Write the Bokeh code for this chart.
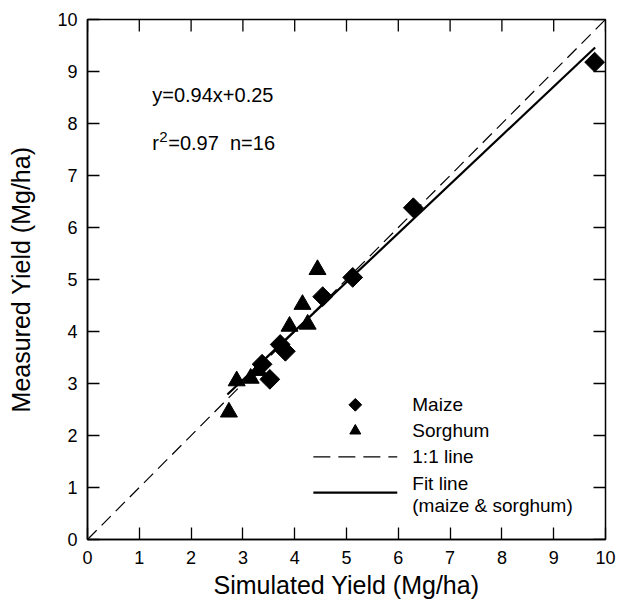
import math
from bokeh.plotting import figure
from bokeh.models import Range1d, FixedTicker, Label
from bokeh.embed import file_html
from bokeh.resources import INLINE

# ---- data ----
maize_sim = [9.79, 6.29, 5.12, 4.54, 3.72, 3.82, 3.37, 3.52]
maize_meas = [9.18, 6.38, 5.04, 4.67, 3.75, 3.62, 3.37, 3.08]
sorghum_sim = [2.73, 2.88, 3.15, 3.30, 3.90, 4.25, 4.15, 4.44]
sorghum_meas = [2.45, 3.05, 3.10, 3.25, 4.10, 4.14, 4.52, 5.19]
fit_slope = 0.94
fit_intercept = 0.25
fit_x = [2.7, 9.8]
one_to_one = [0, 10]
ticks = list(range(0, 11))
eq_text = "y=0.94x+0.25"
r2_text = "=0.97\u00a0\u00a0n=16"
legend_labels = ["Maize", "Sorghum", "1:1 line", "Fit line", "(maize & sorghum)"]

FONT = "Liberation Sans"
X_MAX = 10
Y_MAX = 10

p = figure(width=619, height=601, x_range=Range1d(0, X_MAX), y_range=Range1d(0, Y_MAX),
           output_backend="svg", toolbar_location=None,
           min_border_left=87, min_border_right=14, min_border_top=19, min_border_bottom=60)
p.grid.visible = False
p.outline_line_color = "black"
p.outline_line_width = 1.5
p.background_fill_color = "white"
p.border_fill_color = "white"


def style_axis(ax):
    ax.ticker = FixedTicker(ticks=ticks)
    ax.minor_tick_line_color = None
    ax.major_tick_in = 12
    ax.major_tick_out = 0
    ax.major_tick_line_width = 1.3
    ax.major_tick_line_color = "black"
    ax.axis_line_color = "black"
    ax.axis_line_width = 1.5
    ax.major_label_text_font = FONT
    ax.major_label_text_font_size = "18px"
    ax.major_label_text_color = "black"
    ax.axis_label_text_font = FONT
    ax.axis_label_text_font_size = "25px"
    ax.axis_label_text_font_style = "normal"
    ax.axis_label_text_color = "black"


xa = p.xaxis[0]
ya = p.yaxis[0]
style_axis(xa)
style_axis(ya)
xa.axis_label = "Simulated Yield (Mg/ha)"
ya.axis_label = "Measured Yield (Mg/ha)"
xa.major_label_standoff = 11
xa.axis_label_standoff = 4
ya.major_label_standoff = 10
ya.axis_label_standoff = 19

# inward ticks on the top and right frame edges
tick_len_x = 12 / 51.8
tick_len_y = 12 / 52.2
p.segment(x0=ticks, y0=[Y_MAX] * len(ticks), x1=ticks, y1=[Y_MAX - tick_len_y] * len(ticks),
          line_color="black", line_width=1.3)
p.segment(x0=[X_MAX] * len(ticks), y0=ticks, x1=[X_MAX - tick_len_x] * len(ticks), y1=ticks,
          line_color="black", line_width=1.3)

# 1:1 line
p.line(one_to_one, one_to_one, line_color="black", line_width=1.2, line_dash="13 7")
# fit line
fit_y = [fit_slope * v + fit_intercept for v in fit_x]
p.line(fit_x, fit_y, line_color="black", line_width=2.2)

# points
p.scatter(sorghum_sim, sorghum_meas, marker="triangle", size=17, color="black")
p.scatter(maize_sim, maize_meas, marker="square", angle=math.pi / 4, size=14, color="black")

# annotation text
p.add_layout(Label(x=1.25, y=8.54, text=eq_text, text_font=FONT, text_font_size="20px",
                   text_baseline="middle", text_color="black"))
p.add_layout(Label(x=1.25, y=7.62, text="r", text_font=FONT, text_font_size="20px",
                   text_baseline="middle", text_color="black"))
p.add_layout(Label(x=1.25, y=7.62, x_offset=7, y_offset=6, text="2", text_font=FONT,
                   text_font_size="15px", text_baseline="middle", text_color="black"))
p.add_layout(Label(x=1.25, y=7.62, x_offset=16, text=r2_text, text_font=FONT,
                   text_font_size="20px", text_baseline="middle", text_color="black"))

# legend (manual)
leg_mx = 5.17
leg_line = [4.36, 5.98]
leg_tx = 6.27
leg_y = [2.59, 2.09, 1.59, 1.07, 0.66]
p.scatter([leg_mx], [leg_y[0]], marker="square", angle=math.pi / 4, size=9, color="black")
p.scatter([leg_mx], [leg_y[1]], marker="triangle", size=11, color="black")
p.line(leg_line, [leg_y[2], leg_y[2]], line_color="black", line_width=1.2, line_dash="17 8")
p.line(leg_line, [0.90, 0.90], line_color="black", line_width=2.2)
for lab, yy in zip(legend_labels, leg_y):
    p.add_layout(Label(x=leg_tx, y=yy, text=lab, text_font=FONT, text_font_size="19px",
                       text_baseline="middle", text_color="black"))

open("out.html", "w").write(file_html(p, INLINE))
